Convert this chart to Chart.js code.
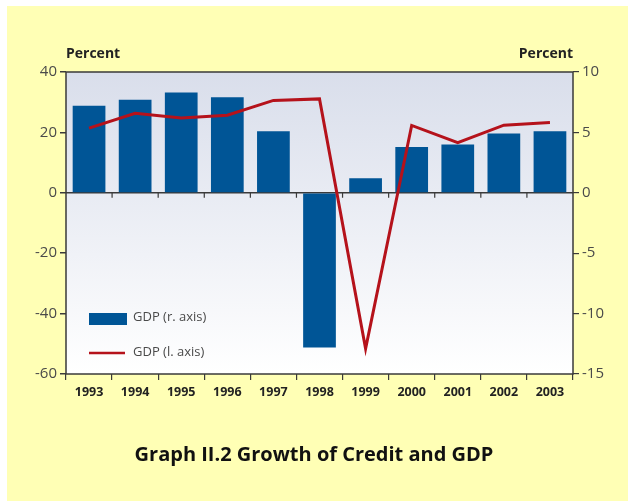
<!DOCTYPE html>
<html>
<head>
<meta charset="utf-8">
<script src="https://cdn.jsdelivr.net/npm/chart.js@4"></script>
<style>
  html, body { margin: 0; padding: 0; background: #fff; }
  #wrap { width: 628px; height: 503px; }
</style>
</head>
<body>
<div id="wrap"><canvas id="creditChart"></canvas></div>
<script>
const years = ['1993', '1994', '1995', '1996', '1997', '1998', '1999', '2000', '2001', '2002', '2003'];
// bars read against the right axis, line against the left axis
const gdpBars = [7.2, 7.7, 8.3, 7.9, 5.1, -12.8, 1.2, 3.8, 4.0, 4.9, 5.1];
const gdpLine = [21.4, 26.3, 24.8, 25.7, 30.6, 31.1, -51.6, 22.3, 16.6, 22.4, 23.3];
const leftTicks = [40, 20, 0, -20, -40, -60];
const rightTicks = [10, 5, 0, -5, -10, -15];
const barLabel = 'GDP (r. axis)';
const lineLabel = 'GDP (l. axis)';
const axisUnit = 'Percent';
const chartTitle = 'Graph II.2 Growth of Credit and GDP';

const narrow = "'Liberation Sans Narrow', 'Arial Narrow', 'Open Sans', sans-serif";
const axisColor = '#3a3a3a';

const backdrop = {
    id: 'backdrop',
    beforeDraw(chart) {
        const ctx = chart.ctx;
        const a = chart.chartArea;
        ctx.save();
        ctx.fillStyle = '#ffffb5';
        ctx.fillRect(7, 6, chart.width - 7, chart.height - 8);
        const g = ctx.createLinearGradient(0, a.top, 0, a.bottom);
        g.addColorStop(0, '#d9deeb');
        g.addColorStop(1, '#ffffff');
        ctx.fillStyle = g;
        ctx.fillRect(a.left, a.top, a.right - a.left, a.bottom - a.top);
        ctx.restore();
    },
    afterDraw(chart) {
        const ctx = chart.ctx;
        const a = chart.chartArea;
        const x = chart.scales.x;
        const y = chart.scales.y;
        ctx.save();
        // frame
        ctx.strokeStyle = axisColor;
        ctx.lineWidth = 1.5;
        ctx.strokeRect(a.left, a.top, a.right - a.left, a.bottom - a.top);
        // small ticks hanging under the zero line
        const y0 = y.getPixelForValue(0);
        ctx.lineWidth = 1.2;
        ctx.beginPath();
        for (let i = 0; i < years.length - 1; i++) {
            const px = (x.getPixelForValue(i) + x.getPixelForValue(i + 1)) / 2;
            ctx.moveTo(px, y0);
            ctx.lineTo(px, y0 + 5);
        }
        ctx.stroke();
        // unit labels above the axes
        ctx.fillStyle = '#222';
        ctx.font = "bold 14px " + narrow;
        ctx.textBaseline = 'alphabetic';
        ctx.textAlign = 'left';
        ctx.fillText(axisUnit, a.left, 58);
        ctx.textAlign = 'right';
        ctx.fillText(axisUnit, a.right, 58);
        // legend inside the plot
        const ds = chart.data.datasets;
        const lx = a.left + 23;
        ctx.textAlign = 'left';
        ctx.textBaseline = 'middle';
        ctx.font = "13px " + narrow;
        ctx.fillStyle = ds[1].backgroundColor;
        ctx.fillRect(lx, 313, 38, 12);
        ctx.strokeStyle = ds[0].borderColor;
        ctx.lineWidth = 2.5;
        ctx.beginPath();
        ctx.moveTo(lx, 353);
        ctx.lineTo(lx + 36, 353);
        ctx.stroke();
        ctx.fillStyle = '#4a4a4a';
        ctx.fillText(ds[1].label, lx + 44, 317);
        ctx.fillText(ds[0].label, lx + 44, 352);
        ctx.restore();
    }
};

new Chart(document.getElementById('creditChart'), {
    data: {
        labels: years,
        datasets: [
            {
                type: 'line',
                label: lineLabel,
                data: gdpLine,
                yAxisID: 'y',
                borderColor: '#b5121b',
                borderWidth: 3,
                pointRadius: 0,
                tension: 0,
                order: 0
            },
            {
                type: 'bar',
                label: barLabel,
                data: gdpBars,
                yAxisID: 'y1',
                backgroundColor: '#005596',
                barPercentage: 0.71,
                categoryPercentage: 1,
                order: 1
            }
        ]
    },
    plugins: [backdrop],
    options: {
        responsive: true,
        maintainAspectRatio: false,
        animation: false,
        layout: { padding: { top: 72, left: 0, right: 0, bottom: 0 } },
        plugins: {
            legend: { display: false },
            tooltip: { enabled: false },
            title: {
                display: true,
                text: chartTitle,
                position: 'bottom',
                color: '#111',
                font: { family: "'Open Sans', sans-serif", size: 20, weight: 'bold', lineHeight: 1.2 },
                padding: { top: 0, bottom: 36 }
            }
        },
        scales: {
            x: {
                type: 'category',
                offset: true,
                grid: { offset: true, drawOnChartArea: false, tickLength: 6, color: axisColor, lineWidth: 1.2 },
                border: { display: false },
                ticks: { color: '#222', font: { family: narrow, size: 12.5, weight: 'bold' }, padding: 5, maxRotation: 0 },
                afterFit(scale) { scale.height = 69; }
            },
            y: {
                position: 'left',
                min: -60,
                max: 40,
                afterBuildTicks(scale) { scale.ticks = leftTicks.map(v => ({ value: v })); },
                grid: {
                    drawOnChartArea: true,
                    color: c => (c.tick && c.tick.value === 0 ? axisColor : 'rgba(0,0,0,0)'),
                    lineWidth: 1.5,
                    tickColor: axisColor,
                    tickLength: 6
                },
                border: { display: false },
                ticks: { color: '#4a4a4a', font: { family: narrow, size: 15 }, padding: 3 },
                afterFit(scale) { scale.width = 66; }
            },
            y1: {
                position: 'right',
                min: -15,
                max: 10,
                afterBuildTicks(scale) { scale.ticks = rightTicks.map(v => ({ value: v })); },
                grid: { drawOnChartArea: false, tickColor: axisColor, tickLength: 6, lineWidth: 1.2 },
                border: { display: false },
                ticks: { color: '#4a4a4a', font: { family: narrow, size: 15 }, padding: 3 },
                afterFit(scale) { scale.width = 55; }
            }
        }
    }
});
</script>
</body>
</html>
